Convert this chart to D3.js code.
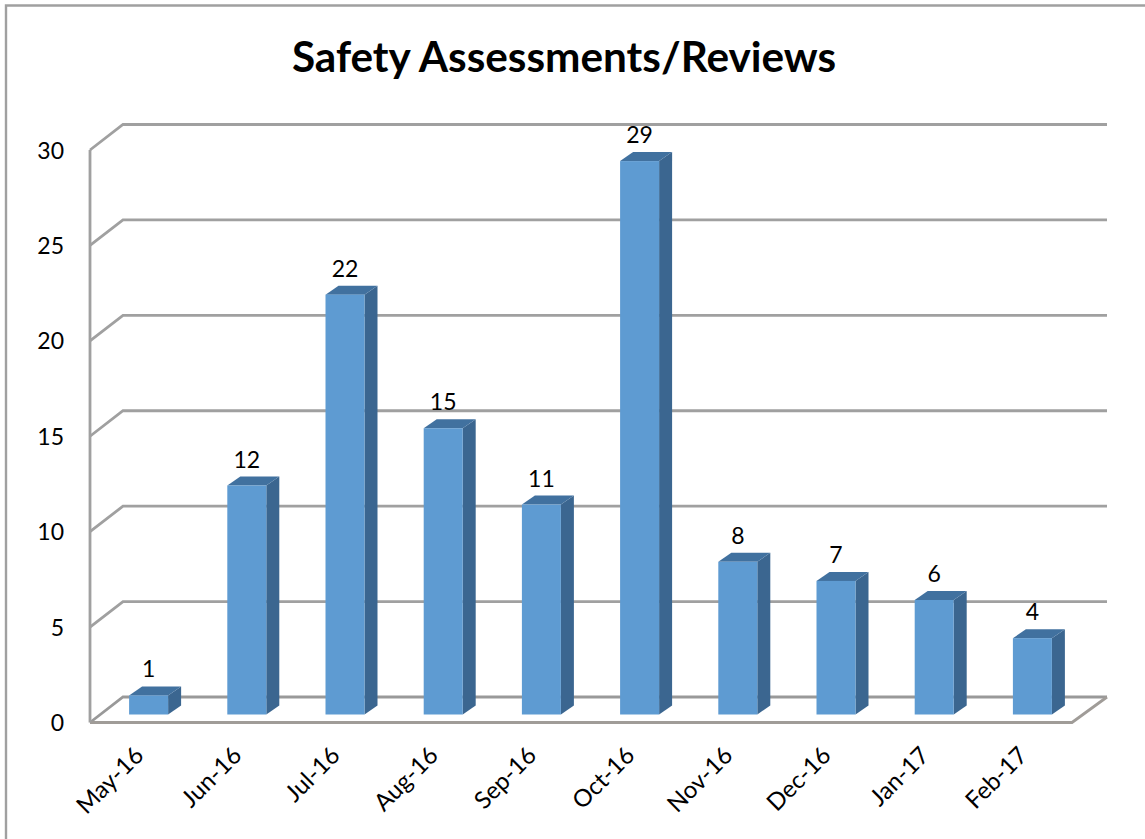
<!DOCTYPE html>
<html><head><meta charset="utf-8">
<script src="https://cdn.jsdelivr.net/npm/d3@7"></script>
<style>html,body{margin:0;padding:0;background:#fff}svg{display:block}</style>
</head><body><div id="chart"></div>
<script>
const categories = ["May-16","Jun-16","Jul-16","Aug-16","Sep-16","Oct-16","Nov-16","Dec-16","Jan-17","Feb-17"];
const values = [1,12,22,15,11,29,8,7,6,4];
const yTicks = [0,5,10,15,20,25,30];
const titleText = "Safety Assessments/Reviews";

const W=1145,H=839;
const font="Lato, Carlito, 'Open Sans', sans-serif";
const svg=d3.select("#chart").append("svg").attr("width",W).attr("height",H);
// frame: only the top and left edges fall inside the picture
svg.append("path").attr("fill","none").attr("stroke","#a0a0a0").attr("stroke-width",2.4)
  .attr("d",d3.line()([[6,H],[6,5.5],[W,5.5]]));

const x=d3.scaleBand().domain(categories).range([90,1072]);
const y=d3.scaleLinear().domain([0,30]).range([722.5,150]);
const depthX=33, depthY=-25.5;
const grid="#a0a0a0";

const g=svg.append("g");
yTicks.forEach(t=>{
  g.append("path").attr("fill","none").attr("stroke",t===0?"#999":grid).attr("stroke-width",2.8)
   .attr("d",d3.line()([[x.range()[0],y(t)],[x.range()[0]+depthX,y(t)+depthY],[1107,y(t)+depthY]]));
});
g.append("path").attr("fill","none").attr("stroke","#a09c98").attr("stroke-width",2.8)
 .attr("d",d3.line()([[90,y(0)],[1072,y(0)],[1107,y(0)+depthY]]));
g.append("line").attr("x1",90).attr("x2",90).attr("y1",y(30)).attr("y2",y(0)).attr("stroke",grid).attr("stroke-width",2.8);

const bw=39, bdx=13, bdy=-9, floorShift=-8, barShift=9.5;
const bars=svg.append("g").selectAll("g").data(categories).join("g");
const bx=c=>x(c)+x.bandwidth()/2+barShift-bw/2;
const by=(c,i)=>y(values[i])+floorShift;
const base=y(0)+floorShift;
bars.append("path").attr("fill","#3b6690")
 .attr("d",(c,i)=>d3.line()([[bx(c)+bw,by(c,i)],[bx(c)+bw+bdx,by(c,i)+bdy],[bx(c)+bw+bdx,base+bdy],[bx(c)+bw,base]])+"Z");
bars.append("path").attr("fill","#41719f")
 .attr("d",(c,i)=>d3.line()([[bx(c),by(c,i)],[bx(c)+bdx,by(c,i)+bdy],[bx(c)+bw+bdx,by(c,i)+bdy],[bx(c)+bw,by(c,i)]])+"Z");
bars.append("rect").attr("x",bx).attr("y",by).attr("width",bw).attr("height",(c,i)=>base-by(c,i)).attr("fill","#5e9bd2");

svg.append("g").selectAll("text").data(categories).join("text")
 .attr("x",c=>bx(c)+bw/2).attr("y",(c,i)=>by(c,i)-18)
 .attr("text-anchor","middle").attr("font-family",font).attr("font-size",23).attr("fill","#000")
 .text((c,i)=>values[i]);

svg.append("g").selectAll("text").data(yTicks).join("text")
 .attr("x",64).attr("y",t=>y(t)+8.5).attr("text-anchor","end")
 .attr("font-family",font).attr("font-size",23).attr("fill","#000").text(t=>t);

svg.append("g").selectAll("text").data(categories).join("text")
 .attr("text-anchor","end").attr("font-family",font).attr("font-size",24).attr("fill","#000")
 .attr("transform",c=>`translate(${x(c)+x.bandwidth()/2-6},${745}) rotate(-45)`)
 .attr("dy","0.7em").text(c=>c);

svg.append("text").attr("x",564).attr("y",72).attr("text-anchor","middle")
 .attr("font-family",font).attr("font-weight",700).attr("font-size",42.3).attr("fill","#000").text(titleText);
</script></body></html>
